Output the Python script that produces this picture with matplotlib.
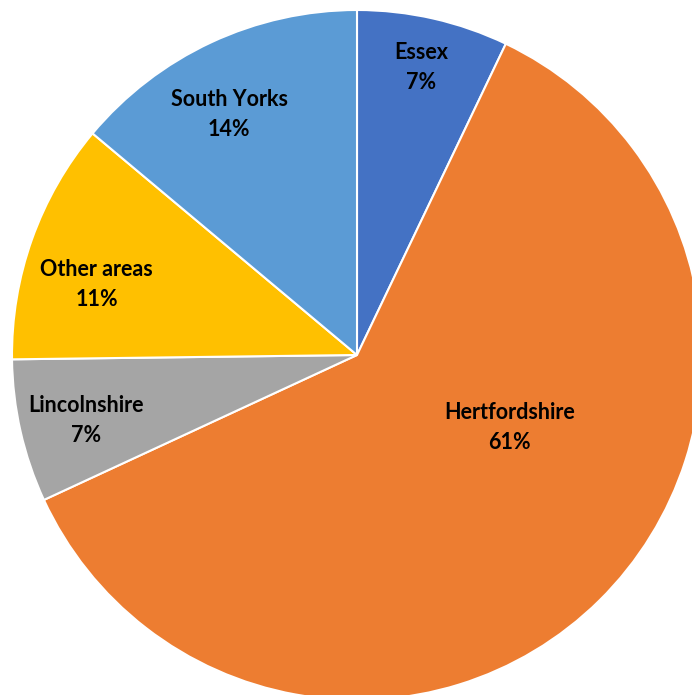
import matplotlib.pyplot as plt

regions = ['Essex', 'Hertfordshire', 'Lincolnshire', 'Other areas', 'South Yorks']
shares = [7.1, 61.0, 6.7, 11.3, 13.9]
colors = ['#4472C4', '#ED7D31', '#A5A5A5', '#FFC000', '#5B9BD5']

# label spots (data units, pie radius = 1)
label_pos = [(0.186, 0.834), (0.443, -0.210), (-0.786, -0.190),
             (-0.754, 0.205), (-0.371, 0.697)]

fig = plt.figure(figsize=(6.92, 6.95), dpi=100)
ax = fig.add_axes([0, 0, 1, 1])

ax.pie(shares, colors=colors, startangle=90, counterclock=False,
       radius=1, wedgeprops=dict(edgecolor='white', linewidth=1.5))

total = sum(shares)
for name, val, (x, y) in zip(regions, shares, label_pos):
    ax.text(x, y, f'{name}\n{round(val / total * 100)}%', ha='center', va='center',
            fontsize=15.5, fontweight='bold', family='Lato', color='#000000',
            linespacing=1.55)

ax.set_xlim(-357 / 345, (692 - 357) / 345)
ax.set_ylim(-(695 - 355) / 345, 355 / 345)
ax.set_aspect('equal')
ax.axis('off')

fig.savefig('out.png', dpi=100)
